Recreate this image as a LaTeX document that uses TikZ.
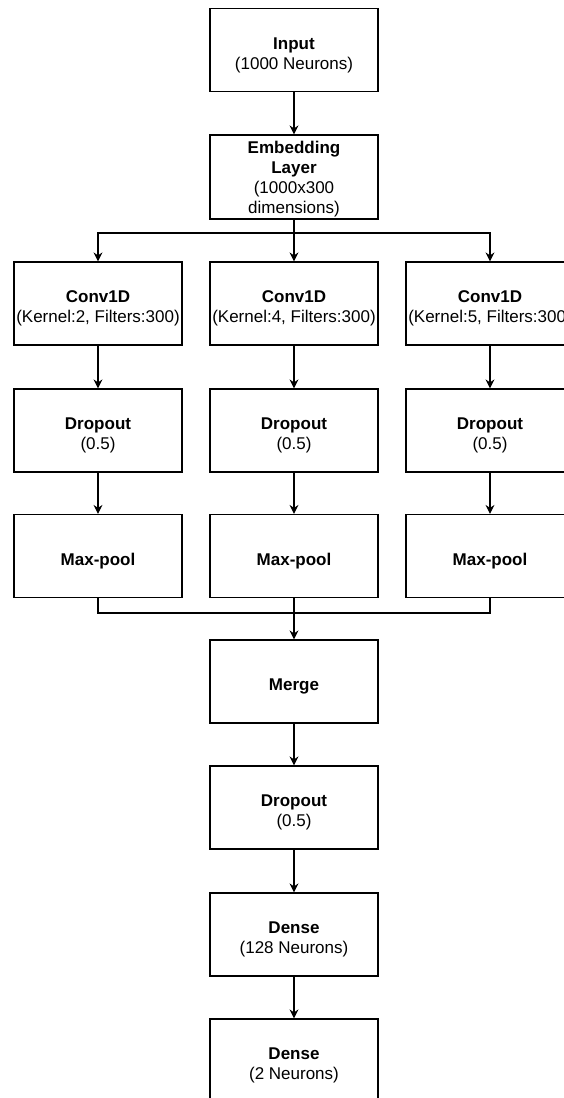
\documentclass[tikz,border=0pt]{standalone}
\usepackage{fontspec}
\setmainfont{Liberation Sans}
\usetikzlibrary{arrows.meta}
\begin{document}
\begin{tikzpicture}[x=1pt,y=-1pt,
  box/.style={draw,line width=1.2pt,minimum width=168pt,minimum height=83pt,inner sep=0pt,
    label={[lbl]center:#1}},
  lbl/.style={align=center,inner sep=0pt,yshift=-5pt,font=\fontsize{17}{20}\selectfont},
  conn/.style={line width=1.2pt,-{Stealth[length=9pt,width=9pt,inset=3pt]}},
  ln/.style={line width=1.2pt}]
\useasboundingbox (0,0) rectangle (564,1098);
\clip (0,0) rectangle (564,1098);
\node[box={\textbf{Input}\\(1000 Neurons)}] (inp) at (294,50) {};
\node[draw,line width=1.2pt,minimum width=168pt,minimum height=84pt,inner sep=0pt,
  label={[lbl,yshift=3pt]center:\textbf{Embedding}\\\textbf{Layer}\\(1000x300\\dimensions)}] (emb) at (294,177) {};
\node[box={\textbf{Conv1D}\\(Kernel:2, Filters:300)}] (c1) at (98,303.5) {};
\node[box={\textbf{Conv1D}\\(Kernel:4, Filters:300)}] (c2) at (294,303.5) {};
\node[box={\textbf{Conv1D}\\(Kernel:5, Filters:300)}] (c3) at (490,303.5) {};
\node[box={\textbf{Dropout}\\(0.5)}] (d1) at (98,430.5) {};
\node[box={\textbf{Dropout}\\(0.5)}] (d2) at (294,430.5) {};
\node[box={\textbf{Dropout}\\(0.5)}] (d3) at (490,430.5) {};
\node[box={\textbf{Max-pool}}] (m1) at (98,556) {};
\node[box={\textbf{Max-pool}}] (m2) at (294,556) {};
\node[box={\textbf{Max-pool}}] (m3) at (490,556) {};
\node[box={\textbf{Merge}}] (mg) at (294,681.5) {};
\node[box={\textbf{Dropout}\\(0.5)}] (d4) at (294,807.5) {};
\node[box={\textbf{Dense}\\(128 Neurons)}] (ds1) at (294,934.5) {};
\node[box={\textbf{Dense}\\(2 Neurons)}] (ds2) at (294,1060.5) {};
\coordinate (split) at (294,233);
\coordinate (join) at (294,613);
\draw[conn] (inp) -- (emb);
\draw[ln] (emb.south) -- (split);
\draw[conn] (split) -| (c1.north);
\draw[conn] (split) -- (c2.north);
\draw[conn] (split) -| (c3.north);
\draw[conn] (c1) -- (d1);
\draw[conn] (c2) -- (d2);
\draw[conn] (c3) -- (d3);
\draw[conn] (d1) -- (m1);
\draw[conn] (d2) -- (m2);
\draw[conn] (d3) -- (m3);
\draw[ln] (m1.south) |- (join);
\draw[ln] (m3.south) |- (join);
\draw[conn] (m2.south) -- (mg.north);
\draw[conn] (mg) -- (d4);
\draw[conn] (d4) -- (ds1);
\draw[conn] (ds1) -- (ds2);
\end{tikzpicture}
\end{document}
